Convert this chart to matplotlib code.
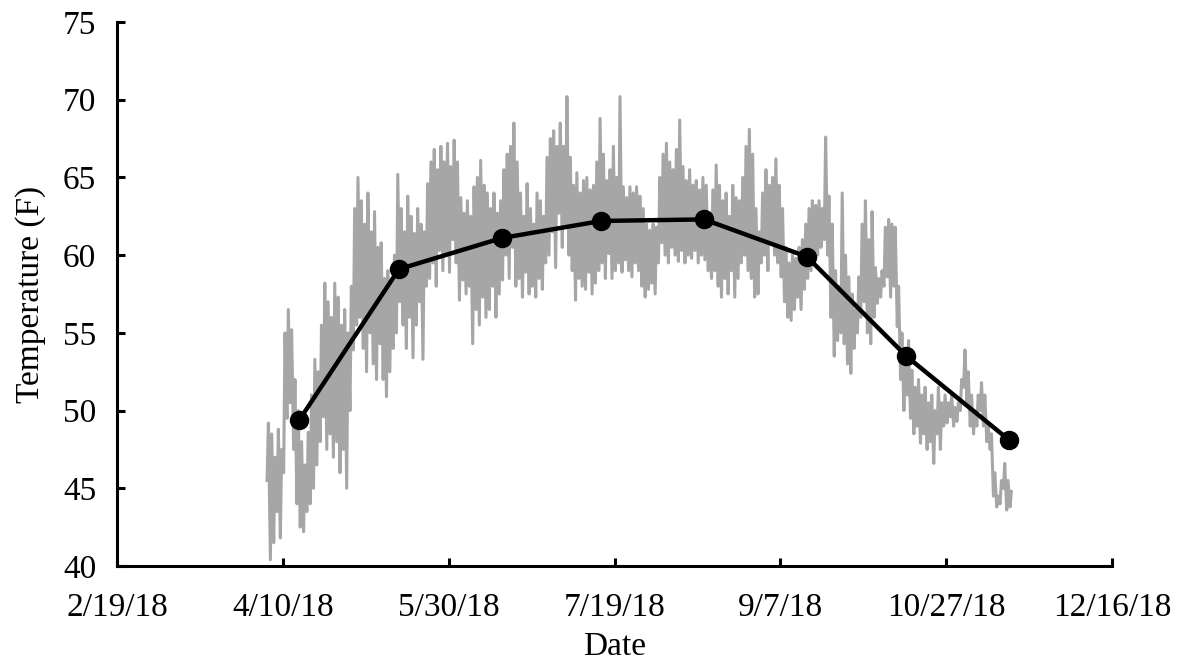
import datetime as dt
import numpy as np
import matplotlib
matplotlib.use("Agg")
from matplotlib import pyplot as plt
import matplotlib.dates as mdates

plt.rcParams['font.family'] = ['Liberation Serif', 'DejaVu Serif']

# daily readings, starting 4/5/18
start = dt.date(2018, 4, 5)
daily_high = [
    49.2, 48.5, 47.0, 48.8, 47.5, 55.0, 56.5, 55.2, 52.0, 50.0,
    48.0, 46.5, 48.6, 51.0, 53.3, 52.5, 55.5, 58.2, 57.0, 56.0,
    58.2, 57.3, 55.5, 56.5, 55.0, 58.0, 63.0, 65.0, 63.5, 62.0,
    64.0, 61.5, 62.8, 60.5, 60.8, 58.5, 59.0, 58.2, 60.0, 65.2,
    63.0, 61.5, 63.8, 62.5, 61.4, 63.0, 62.0, 61.5, 64.6, 66.0,
    66.8, 65.5, 67.0, 66.0, 67.2, 65.7, 67.4, 66.0, 63.7, 62.7,
    63.5, 62.5, 64.4, 65.0, 66.1, 64.5, 64.0, 63.0, 64.0, 62.7,
    63.5, 65.5, 66.5, 67.0, 68.5, 66.0, 64.0, 62.5, 64.6, 63.0,
    62.0, 64.0, 63.5, 62.5, 66.3, 67.5, 68.0, 67.0, 68.5, 67.0,
    70.2, 66.3, 64.5, 65.3, 64.0, 64.8, 65.0, 64.2, 64.5, 66.0,
    68.8, 66.5, 64.8, 65.5, 67.0, 65.0, 70.2, 64.4, 63.7, 64.4,
    64.0, 64.4, 63.8, 63.0, 62.0, 61.6, 62.0, 61.8, 65.0, 66.5,
    67.2, 66.0, 65.5, 66.8, 68.7, 65.7, 64.8, 65.5, 64.5, 64.8,
    64.2, 65.0, 64.5, 62.0, 64.2, 65.8, 64.5, 63.5, 64.0, 62.5,
    64.5, 63.7, 63.5, 65.0, 67.0, 68.1, 66.5, 63.0, 61.5, 64.0,
    65.5, 64.5, 65.0, 66.2, 64.5, 63.0, 60.5, 59.5, 60.0, 59.8,
    60.5, 61.0, 62.0, 63.0, 63.5, 63.2, 63.5, 63.0, 67.6, 63.8,
    62.0, 59.0, 58.0, 64.0, 60.0, 58.6, 57.5, 56.5, 58.6, 62.0,
    63.5, 61.0, 62.8, 59.2, 58.5, 59.0, 61.8, 62.3, 62.0, 61.8,
    58.0, 55.0, 53.0, 54.5, 52.6, 51.5, 52.0, 51.0, 51.5, 50.5,
    51.0, 50.0, 51.5, 50.5, 51.0, 50.5, 51.0, 50.2, 50.5, 52.0,
    53.9, 52.5, 51.0, 50.0, 51.0, 51.8, 51.0, 49.0, 48.5, 46.0,
    44.5, 45.5, 46.6, 45.5, 44.8,
]
daily_low = [
    45.5, 40.4, 41.5, 43.5, 41.8, 46.0, 49.5, 50.5, 47.5, 44.0,
    42.5, 42.2, 43.5, 44.0, 45.0, 46.5, 48.0, 49.6, 47.5, 48.5,
    47.0, 48.0, 46.0, 47.5, 45.0, 50.0, 53.9, 55.5, 56.0, 54.0,
    52.5, 55.0, 53.0, 52.0, 54.3, 52.0, 50.9, 52.5, 54.0, 55.0,
    57.0, 55.5, 54.0, 56.0, 53.4, 55.5, 57.0, 53.3, 58.0, 58.5,
    59.5, 58.0, 60.3, 59.0, 60.0, 58.9, 61.0, 59.5, 57.1, 58.4,
    57.5, 58.0, 54.3, 56.5, 55.5, 57.3, 56.0, 56.5, 58.0, 56.0,
    57.5, 58.4, 60.0, 58.5, 60.5, 58.0, 58.5, 57.3, 58.9, 57.5,
    58.0, 57.3, 58.5, 57.8, 59.5, 60.0, 61.5, 59.2, 62.7, 60.5,
    62.0, 60.0, 59.0, 57.1, 58.5, 58.0, 57.8, 58.9, 57.5, 58.2,
    59.0, 59.5, 58.5, 60.1, 58.5, 59.0, 59.5, 58.9, 59.7, 59.0,
    58.6, 59.5, 59.0, 58.0, 57.3, 57.8, 58.2, 57.5, 59.5, 60.8,
    60.0, 59.5, 60.5, 60.0, 59.6, 60.3, 59.5, 60.0, 59.8, 60.3,
    59.5, 60.0, 59.7, 59.0, 58.5, 59.0, 58.0, 57.3, 58.5, 57.5,
    59.0, 57.3, 58.5, 59.5, 60.0, 59.0, 58.5, 57.3, 57.5, 59.5,
    60.0, 59.0, 60.8, 60.0, 59.5, 58.6, 57.0, 56.0, 55.8, 56.5,
    57.3, 56.5, 57.8, 58.5, 59.0, 59.9, 60.0, 60.5, 61.0, 60.0,
    56.0, 53.5, 54.5, 55.0, 54.3, 53.0, 52.4, 54.0, 55.0, 56.0,
    57.0, 55.0, 54.3, 56.0, 56.9, 57.3, 58.0, 58.6, 57.3, 58.0,
    55.4, 52.0, 50.0, 51.0, 49.5, 48.5, 49.0, 47.9, 48.5, 47.5,
    48.0, 46.6, 48.5, 47.5, 49.0, 49.2, 49.6, 49.0, 49.3, 50.0,
    51.5, 50.5, 49.0, 48.5, 49.0, 50.0, 49.0, 48.0, 47.5, 44.5,
    43.8, 44.0, 45.0, 43.6, 43.8,
]

# monthly means
month_dates = [dt.date(2018, m, 15) for m in range(4, 12)]
month_means = [49.4, 59.1, 61.1, 62.2, 62.3, 59.9, 53.5, 48.1]

tick_dates = [dt.date(2018, 2, 19) + dt.timedelta(days=50 * i) for i in range(7)]
tick_labels = ['2/19/18', '4/10/18', '5/30/18', '7/19/18', '9/7/18', '10/27/18', '12/16/18']

# build the zigzag: low in the early morning, high in the afternoon
t0 = mdates.date2num(start)
xs, ys = [], []
for i, (lo, hi) in enumerate(zip(daily_low, daily_high)):
    xs += [t0 + i + 0.25, t0 + i + 0.65]
    ys += [lo, hi]

fig = plt.figure(figsize=(11.77, 6.63), dpi=100)
ax = fig.add_axes([0.0994, 0.1463, 0.8454, 0.8205])

ax.plot(xs, ys, color='#a6a6a6', lw=2.2, zorder=1)
ax.plot(mdates.date2num(month_dates), month_means, 'o-', color='black',
        lw=3.2, markersize=13, zorder=2)

ax.set_xlim(mdates.date2num(tick_dates[0]), mdates.date2num(tick_dates[-1]))
ax.set_ylim(40, 75)
ax.set_xticks(mdates.date2num(tick_dates))
ax.set_xticklabels(tick_labels)
ax.set_yticks(range(40, 80, 5))

for s in ['top', 'right']:
    ax.spines[s].set_visible(False)
for s in ['left', 'bottom']:
    ax.spines[s].set_linewidth(2.2)
ax.tick_params(direction='in', length=6, width=2.2, labelsize=24)
ax.tick_params(axis='x', pad=19)
ax.tick_params(axis='y', pad=15)

ax.set_xlabel('Date', fontsize=24, labelpad=6)
ax.set_ylabel('Temperature (F)', fontsize=24, labelpad=12)

plt.savefig('out.png', dpi=100)
